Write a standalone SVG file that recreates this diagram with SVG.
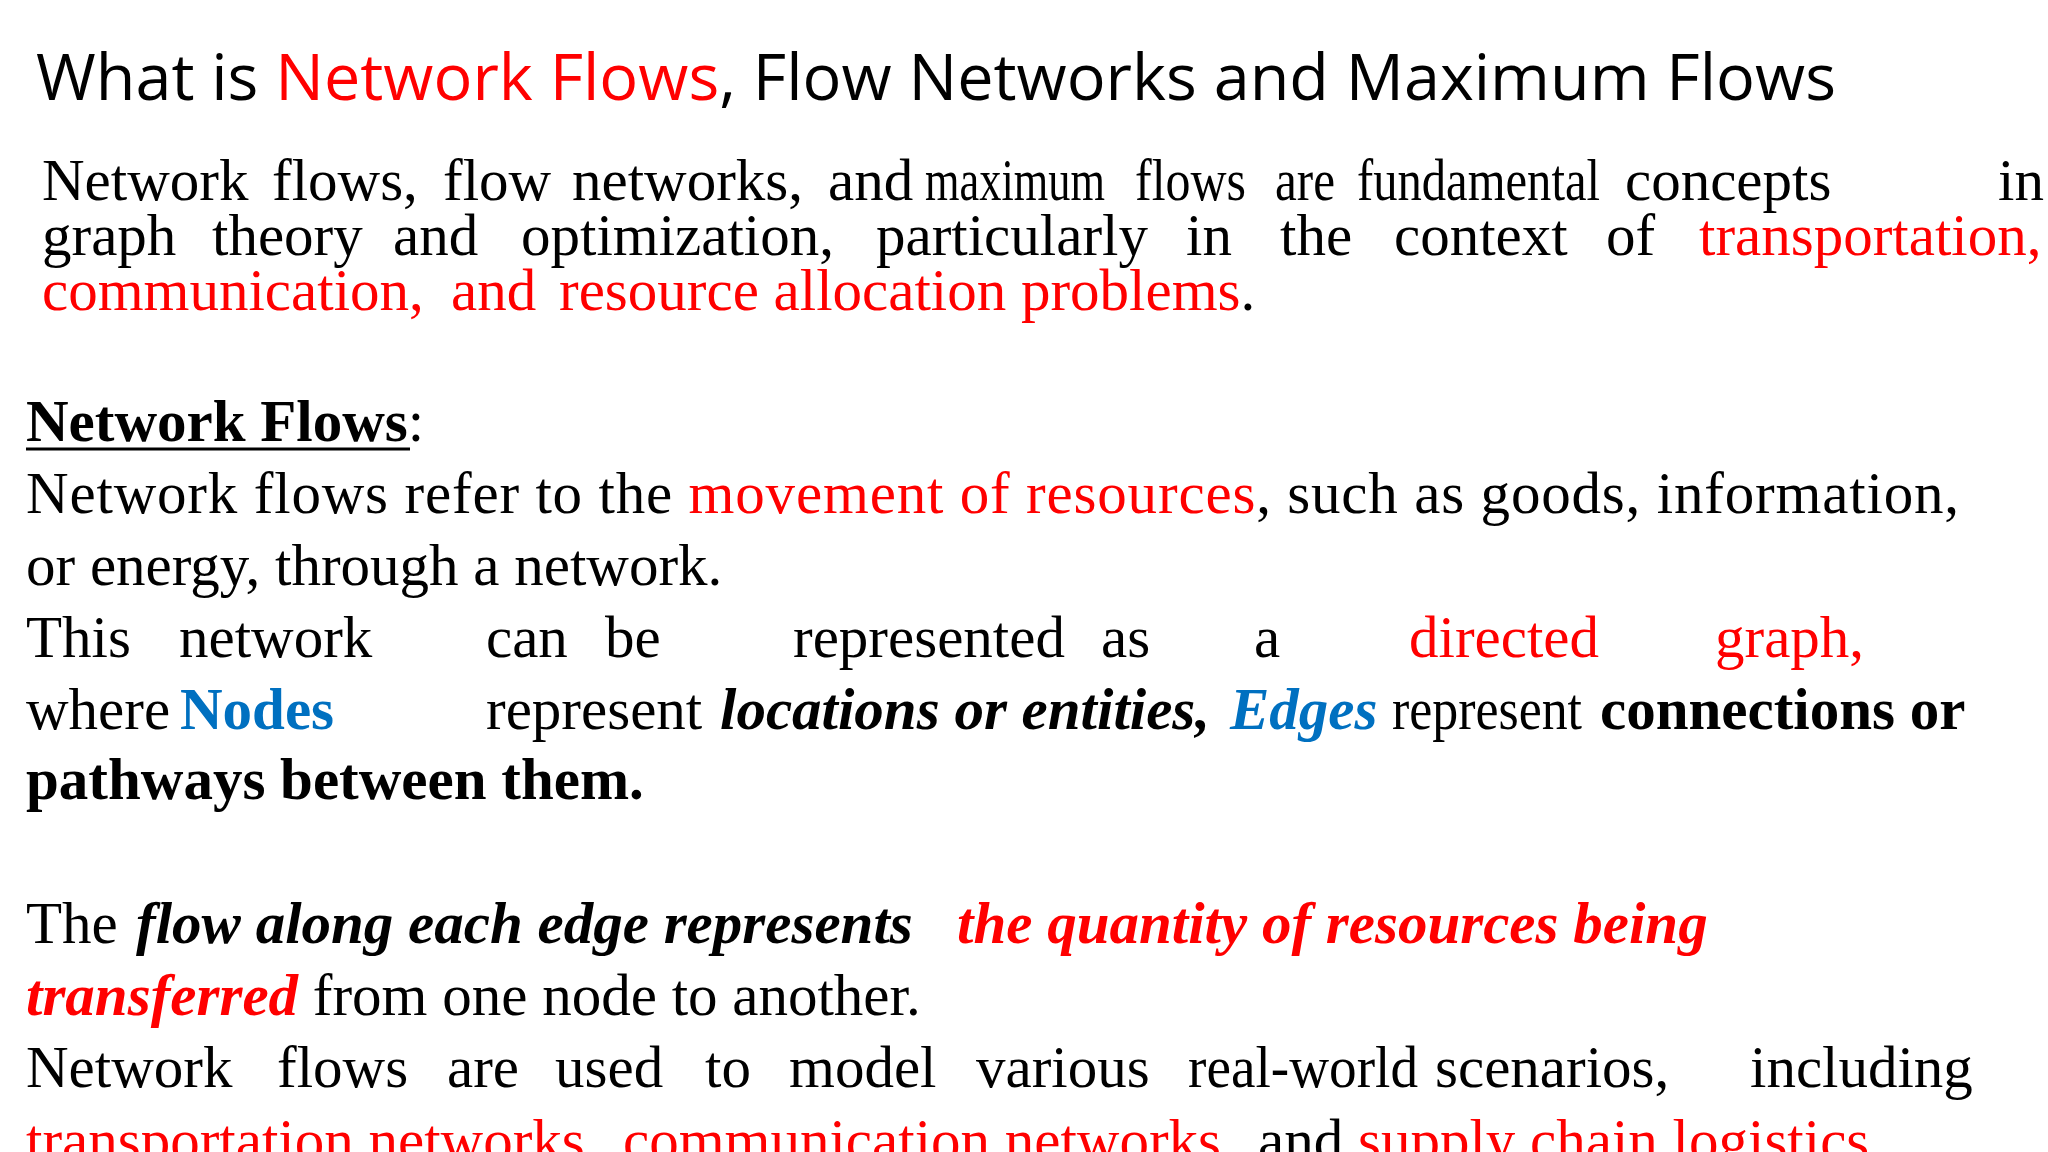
<svg xmlns="http://www.w3.org/2000/svg" width="2048" height="1152" viewBox="0 0 2048 1152">
<style>
.t{font-family:"Open Sans","Liberation Sans",sans-serif;font-size:64px;fill:#000}
.s{font-family:"Liberation Serif","Times New Roman",serif;font-size:59px;fill:#000}
.r{fill:#ff0000}.b{fill:#0070c0}.bd{font-weight:bold}.it{font-style:italic}
</style>
<rect width="2048" height="1152" fill="#fff"/>
<g id="title"><text class="t" x="36" y="100" textLength="1800" lengthAdjust="spacingAndGlyphs">What is <tspan class="r">Network Flows</tspan>, Flow Networks and Maximum Flows</text></g>
<g id="intro">
<text class="s" y="200"><tspan x="42">Network</tspan><tspan x="272">flows,</tspan><tspan x="443">flow</tspan><tspan x="572">networks,</tspan><tspan x="828">and</tspan><tspan x="925" textLength="180" lengthAdjust="spacingAndGlyphs">maximum</tspan><tspan x="1135" textLength="111" lengthAdjust="spacingAndGlyphs">flows</tspan><tspan x="1275" textLength="60" lengthAdjust="spacingAndGlyphs">are</tspan><tspan x="1357" textLength="243" lengthAdjust="spacingAndGlyphs">fundamental</tspan><tspan x="1625">concepts</tspan><tspan x="1998">in</tspan></text>
<text class="s" y="255"><tspan x="42">graph</tspan><tspan x="212">theory</tspan><tspan x="393">and</tspan><tspan x="521">optimization,</tspan><tspan x="876">particularly</tspan><tspan x="1186">in</tspan><tspan x="1280">the</tspan><tspan x="1394">context</tspan><tspan x="1606">of</tspan><tspan x="1699" class="r">transportation,</tspan></text>
<text class="s" y="310"><tspan x="42" class="r">communication,</tspan><tspan x="451" class="r">and</tspan><tspan x="559" class="r">resource allocation problems</tspan>.</text>
</g>
<g id="body">
<text class="s bd" x="26" y="441">Network Flows<tspan font-weight="normal">:</tspan></text>
<line x1="26" y1="449" x2="410" y2="449" stroke="#000" stroke-width="3"/>
<text class="s" x="26" y="513" textLength="1933" lengthAdjust="spacing">Network flows refer to the <tspan class="r">movement of resources</tspan>, such as goods, information,</text>
<text class="s" x="26" y="585">or energy, through a network.</text>
<text class="s" y="657"><tspan x="26">This</tspan><tspan x="179">network</tspan><tspan x="486">can</tspan><tspan x="605">be</tspan><tspan x="793">represented</tspan><tspan x="1101">as</tspan><tspan x="1254">a</tspan><tspan x="1409" class="r">directed</tspan><tspan x="1715" class="r">graph,</tspan></text>
<text class="s" y="729"><tspan x="26">where</tspan><tspan x="180" class="b bd">Nodes</tspan><tspan x="486">represent</tspan><tspan x="720" class="bd it">locations or entities,</tspan><tspan x="1230" class="b bd it">Edges</tspan><tspan x="1392" textLength="190" lengthAdjust="spacingAndGlyphs">represent</tspan><tspan x="1600" class="bd">connections or</tspan></text>
<text class="s bd" x="26" y="799">pathways between them.</text>
<text class="s" y="943"><tspan x="26">The</tspan><tspan x="136" class="bd it">flow along each edge represents</tspan><tspan x="957" class="r bd it">the quantity of resources being</tspan></text>
<text class="s" y="1015"><tspan x="26" class="r bd it">transferred</tspan><tspan> from one node to another.</tspan></text>
<text class="s" y="1087"><tspan x="26">Network</tspan><tspan x="277">flows</tspan><tspan x="447">are</tspan><tspan x="555">used</tspan><tspan x="705">to</tspan><tspan x="789">model</tspan><tspan x="976">various</tspan><tspan x="1188" textLength="230" lengthAdjust="spacingAndGlyphs">real-world</tspan><tspan x="1435">scenarios,</tspan><tspan x="1750">including</tspan></text>
<text class="s" y="1160"><tspan x="26" class="r">transportation networks,</tspan><tspan x="623" class="r">communication networks</tspan><tspan>,</tspan><tspan x="1258">and</tspan><tspan x="1358" class="r">supply chain logistics</tspan><tspan>.</tspan></text>
</g>
</svg>
